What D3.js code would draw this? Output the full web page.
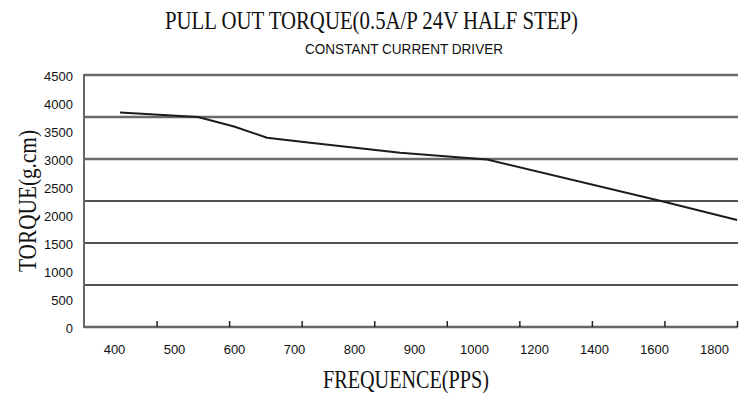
<!DOCTYPE html>
<html>
<head>
<meta charset="utf-8">
<script src="https://cdn.jsdelivr.net/npm/d3@7"></script>
<style>
  html, body { margin: 0; padding: 0; background: #fff; }
  svg { display: block; }
</style>
</head>
<body>
<svg id="chart" width="750" height="393"></svg>
<script>
// ---- data ----
const frequencies = [410, 540, 600, 655, 727, 877, 1043, 1630, 1877];
const torques = [3830, 3750, 3580, 3380, 3290, 3110, 2990, 2240, 1910];
const xTickLabels = [400, 500, 600, 700, 800, 900, 1000, 1200, 1400, 1600, 1800];
const yTickValues = [0, 500, 1000, 1500, 2000, 2500, 3000, 3500, 4000, 4500];
const gridHeavy = [3000, 3750, 4500];
const gridLight = [750, 1500, 2250];
const xTickMarks = [1, 2, 3, 4, 5, 6, 7, 8, 9];

const titleText = "PULL OUT TORQUE(0.5A/P 24V HALF STEP)";
const subtitleText = "CONSTANT CURRENT DRIVER";
const xTitleText = "FREQUENCE(PPS)";
const yTitleText = "TORQUE(g.cm)";

(function () {
  // ---- layout ----
  const plotLeft = 84, plotRight = 737, plotTop = 75, plotBottom = 327;
  const svg = d3.select("#chart");

  const y = d3.scaleLinear().domain([0, 4500]).range([plotBottom, plotTop]);
  const xLabel = d3.scalePoint().domain(xTickLabels).range([114, 714]);
  const xData = d3.scaleLinear().domain(xTickLabels).range(xTickLabels.map(d => xLabel(d)));
  const xTick = d3.scaleLinear().domain([0, 9]).range([plotLeft, plotRight]);

  // gridlines
  svg.append("g").selectAll("line").data(gridLight).join("line")
    .attr("x1", plotLeft).attr("x2", plotRight + 1)
    .attr("y1", d => y(d)).attr("y2", d => y(d))
    .attr("stroke", "#1a1a1a").attr("stroke-width", 1.5);
  svg.append("g").selectAll("line").data(gridHeavy).join("line")
    .attr("x1", plotLeft).attr("x2", plotRight + 1)
    .attr("y1", d => y(d)).attr("y2", d => y(d))
    .attr("stroke", "#6a6a6a").attr("stroke-width", 2.5);

  // axis lines
  svg.append("line").attr("x1", plotLeft).attr("x2", plotLeft).attr("y1", y(4500) - 1).attr("y2", plotBottom + 1)
    .attr("stroke", "#666").attr("stroke-width", 2);
  svg.append("line").attr("x1", plotLeft).attr("x2", plotRight + 1).attr("y1", plotBottom).attr("y2", plotBottom)
    .attr("stroke", "#666").attr("stroke-width", 2.5);

  // x tick marks
  const tickAxis = svg.append("g").attr("transform", `translate(0,${plotBottom})`)
    .call(d3.axisTop(xTick).tickValues(xTickMarks).tickSize(6).tickFormat(""));
  tickAxis.select(".domain").remove();
  tickAxis.selectAll(".tick line").attr("stroke", "#222").attr("stroke-width", 1.5);

  // y tick labels
  const yAxis = svg.append("g").attr("transform", `translate(${plotLeft},0)`)
    .call(d3.axisLeft(y).tickValues(yTickValues).tickFormat(d3.format("d")).tickSize(0).tickPadding(11));
  yAxis.select(".domain").remove();
  yAxis.selectAll("text").attr("font-family", "Liberation Sans Narrow, Liberation Sans, sans-serif")
    .attr("font-size", 13).attr("fill", "#111").attr("dy", "0.4em");

  // x tick labels
  const xAxis = svg.append("g").attr("transform", `translate(0,${plotBottom})`)
    .call(d3.axisBottom(xLabel).tickSize(0).tickPadding(18));
  xAxis.select(".domain").remove();
  xAxis.selectAll("text").attr("font-family", "Liberation Sans Narrow, Liberation Sans, sans-serif")
    .attr("font-size", 13).attr("fill", "#111");

  // curve
  const line = d3.line().x(d => xData(d[0])).y(d => y(d[1]));
  svg.append("path").datum(frequencies.map((f, i) => [f, torques[i]]))
    .attr("d", line).attr("fill", "none")
    .attr("stroke", "#1c1c1c").attr("stroke-width", 2).attr("stroke-linejoin", "round");

  // titles
  svg.append("text").attr("x", 165).attr("y", 29).text(titleText)
    .attr("font-family", "Liberation Serif, serif").attr("font-size", 26)
    .attr("textLength", 413).attr("lengthAdjust", "spacingAndGlyphs").attr("fill", "#111");
  svg.append("text").attr("x", 305).attr("y", 54).text(subtitleText)
    .attr("font-family", "Liberation Sans Narrow, Liberation Sans, sans-serif").attr("font-size", 15)
    .attr("textLength", 198).attr("lengthAdjust", "spacingAndGlyphs").attr("fill", "#111");
  svg.append("text").attr("x", 323).attr("y", 388).text(xTitleText)
    .attr("font-family", "Liberation Serif, serif").attr("font-size", 26)
    .attr("textLength", 166).attr("lengthAdjust", "spacingAndGlyphs").attr("fill", "#111");
  svg.append("text").attr("transform", "translate(36,272) rotate(-90)").text(yTitleText)
    .attr("font-family", "Liberation Serif, serif").attr("font-size", 25)
    .attr("textLength", 142).attr("lengthAdjust", "spacingAndGlyphs").attr("fill", "#111");
})();
</script>
</body>
</html>
